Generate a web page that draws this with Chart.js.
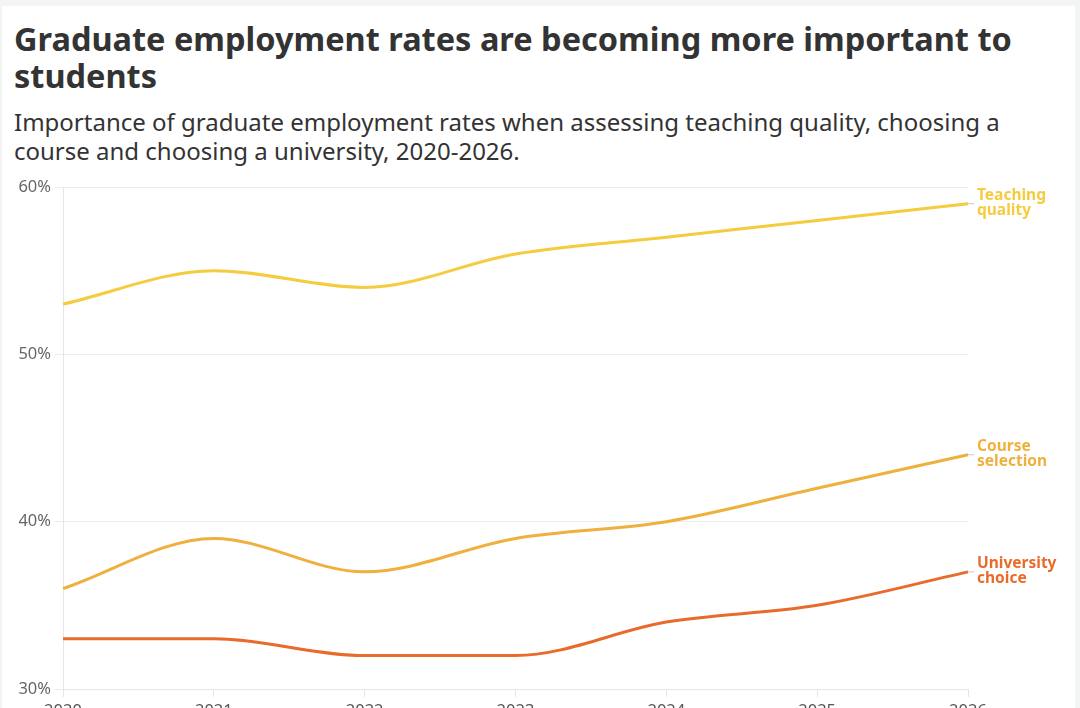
<!DOCTYPE html>
<html>
<head>
<meta charset="utf-8">
<script src="https://cdn.jsdelivr.net/npm/chart.js@4.4.0/dist/chart.umd.min.js"></script>
<style>
  html, body { margin: 0; padding: 0; }
  body { width: 1080px; height: 708px; overflow: hidden; background: #f3f4f4; font-family: "Noto Sans", sans-serif; }
  .card { position: absolute; left: 2px; top: 6px; width: 1073px; height: 760px; background: #fff; }
  h1 { position: absolute; left: 12px; top: 14px; margin: 0; font-size: 32.5px; line-height: 37px; font-weight: 700; color: #333; letter-spacing: 0; }
  .sub { position: absolute; left: 12px; top: 101px; margin: 0; font-size: 24px; line-height: 29px; font-weight: 400; color: #333; }
  .wrap { position: absolute; left: -2px; top: 164px; width: 1075px; height: 549px; }
</style>
</head>
<body>
<div class="card">
  <h1>Graduate employment rates are becoming more important to<br>students</h1>
  <p class="sub">Importance of graduate employment rates when assessing teaching quality, choosing a<br>course and choosing a university, 2020-2026.</p>
  <div class="wrap"><canvas id="lineChart"></canvas></div>
</div>
<script>
// Years on the x axis
var years = ["2020", "2021", "2022", "2023", "2024", "2025", "2026"];

// Share of students (%) who rate graduate employment rates as important
var teachingQuality = [53, 55, 54, 56, 57, 58, 59];
var courseSelection = [36, 39, 37, 39, 40, 42, 44];
var universityChoice = [33, 33, 32, 32, 34, 35, 37];

var yTicks = [30, 40, 50, 60];

var lineColors = ["#f5cb3f", "#efb03e", "#e86b2b"];
var endLabels = [["Teaching", "quality"], ["Course", "selection"], ["University", "choice"]];

// Draws the series name next to the last point of each line
var endLabelPlugin = {
    id: "endLabels",
    afterDatasetsDraw: function (chart) {
        var ctx = chart.ctx;
        chart.data.datasets.forEach(function (ds, i) {
            var meta = chart.getDatasetMeta(i);
            var last = meta.data[meta.data.length - 1];
            if (!last) return;
            var x = last.x, y = last.y;
            ctx.save();
            ctx.strokeStyle = "#c8c8c8";
            ctx.lineWidth = 1;
            ctx.beginPath();
            ctx.moveTo(x, y);
            ctx.lineTo(x + 6, y);
            ctx.stroke();
            ctx.fillStyle = ds.borderColor;
            ctx.font = "bold 15.5px 'Noto Sans', sans-serif";
            ctx.textBaseline = "middle";
            ctx.textAlign = "left";
            ds.endLabel.forEach(function (line, j) {
                ctx.fillText(line, x + 9, y - 8 + j * 15);
            });
            ctx.restore();
        });
    }
};

var series = [teachingQuality, courseSelection, universityChoice];

new Chart("lineChart", {
    type: "line",
    data: {
        labels: years,
        datasets: series.map(function (values, i) {
            return {
                label: endLabels[i].join(" "),
                endLabel: endLabels[i],
                data: values,
                borderColor: lineColors[i],
                backgroundColor: lineColors[i],
                borderWidth: 3,
                pointRadius: 0,
                cubicInterpolationMode: "monotone",
                fill: false
            };
        })
    },
    options: {
        responsive: true,
        maintainAspectRatio: false,
        animation: false,
        layout: { padding: { top: 17, right: 107, bottom: 0, left: 0 } },
        plugins: {
            legend: { display: false },
            tooltip: { enabled: false }
        },
        scales: {
            x: {
                offset: false,
                grid: { drawOnChartArea: false, color: "#e6e6e6", tickLength: 8 },
                border: { color: "#e6e6e6" },
                ticks: { color: "#555", font: { size: 16.5, family: "'Noto Sans', sans-serif" }, padding: 4, maxRotation: 0 },
                afterFit: function (scale) { scale.height = 30; }
            },
            y: {
                min: 30,
                max: 60,
                afterBuildTicks: function (scale) {
                    scale.ticks = yTicks.map(function (v) { return { value: v }; });
                },
                grid: { color: "#ececec", tickLength: 8 },
                border: { color: "#e6e6e6" },
                ticks: {
                    color: "#666",
                    padding: 4,
                    font: { size: 16.5, family: "'Noto Sans', sans-serif" },
                    callback: function (v) { return v + "%"; }
                },
                afterFit: function (scale) { scale.width = 63; }
            }
        }
    },
    plugins: [endLabelPlugin]
});
</script>
</body>
</html>
